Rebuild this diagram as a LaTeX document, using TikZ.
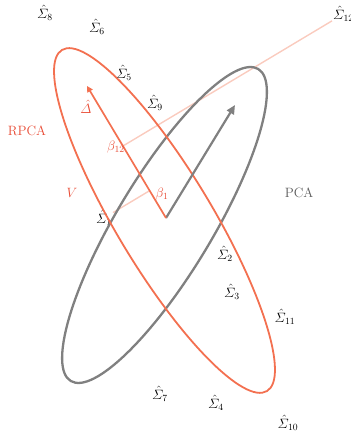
\RequirePackage{fix-cm}
\documentclass[tikz,border=0pt]{standalone}
\usepackage{amsmath}
\usetikzlibrary{arrows.meta,calc}
\definecolor{rpcared}{RGB}{243,112,80}
\definecolor{rpcatext}{RGB}{232,74,52}
\definecolor{pcagray}{RGB}{128,128,128}
\definecolor{pcatext}{RGB}{90,90,90}
\definecolor{projpink}{RGB}{250,203,190}
\begin{document}
\begin{tikzpicture}[x=1pt,y=1pt,
  lbl/.style={inner sep=1pt, font=\fontsize{13.5}{15}\selectfont},
  redlbl/.style={lbl, text=rpcatext},
  graylbl/.style={lbl, text=pcatext},
  proj/.style={draw=projpink, line width=1.4pt},
  redell/.style={draw=rpcared, line width=1.8pt},
  grayell/.style={draw=pcagray, line width=2.3pt},
  redarrow/.style={draw=rpcared, line width=1.7pt, -{Triangle[length=6pt,width=6pt]}},
  grayarrow/.style={draw=pcagray, line width=2.2pt, -{Triangle[length=9pt,width=8pt]}}]
\useasboundingbox (0,0) rectangle (350,438);
\coordinate (O) at (166,220);
\coordinate (R) at (87,352);
\coordinate (G) at (235,333);
% labels
\node[lbl] (S8) at (45,425) {$\hat{\varSigma}_8$};
\node[lbl] (S6) at (97,411) {$\hat{\varSigma}_6$};
\node[lbl] (S5) at (124,365) {$\hat{\varSigma}_5$};
\node[lbl] (S9) at (155,335) {$\hat{\varSigma}_9$};
\node[lbl,anchor=west] (S12) at (332,424) {$\hat{\varSigma}_{12}$};
\node[lbl] (S1) at (104,220) {$\hat{\varSigma}_1$};
\node[lbl] (S2) at (225,184) {$\hat{\varSigma}_2$};
\node[lbl] (S3) at (232,146) {$\hat{\varSigma}_3$};
\node[lbl] (S11) at (285,121) {$\hat{\varSigma}_{11}$};
\node[lbl] (S7) at (160,44) {$\hat{\varSigma}_7$};
\node[lbl] (S4) at (216,35) {$\hat{\varSigma}_4$};
\node[lbl] (S10) at (288,15) {$\hat{\varSigma}_{10}$};
% projections
\coordinate (F12) at ($(O)!(S12)!(R)$);
\coordinate (F1) at ($(O)!(S1)!(R)$);
\draw[proj] (S12) -- (F12);
\draw[proj] (S1) -- (F1);
% ellipses
\draw[grayell, rotate around={59:(164.5,213)}] (164.5,213) ellipse [x radius=182pt, y radius=48pt];
\draw[redell, rotate around={121:(164.5,217.5)}] (164.5,217.5) ellipse [x radius=199pt, y radius=48pt];
% arrows
\draw[grayarrow] (O) -- (G);
\draw[redarrow] (O) -- (R);
% red / gray labels
\node[redlbl] (Delta) at (86,331) {$\hat{\varDelta}$};
\node[redlbl] (RPCA) at (27,307) {RPCA};
\node[redlbl] (B12) at (116,291) {$\beta_{12}$};
\node[redlbl] (V) at (72,245) {$V$};
\node[redlbl] (B1) at (162,244) {$\beta_1$};
\node[graylbl] (PCA) at (299,245) {PCA};
\end{tikzpicture}
\end{document}
